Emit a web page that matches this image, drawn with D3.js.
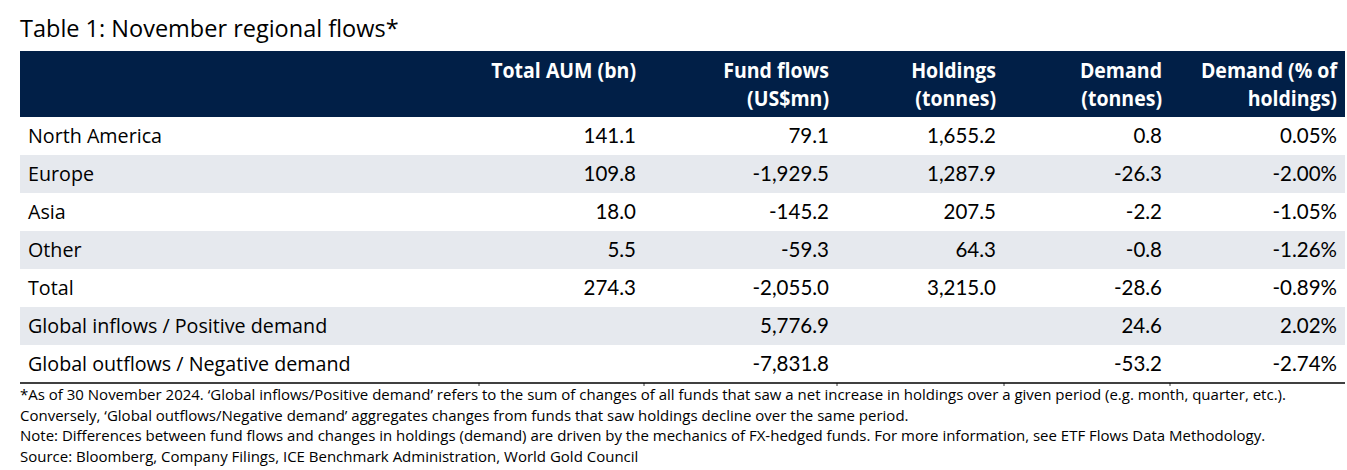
<!DOCTYPE html>
<html><head><meta charset="utf-8">
<script src="https://cdn.jsdelivr.net/npm/d3@7"></script>
<style>
html,body{margin:0;padding:0;background:#fff;}
svg{display:block;}
</style></head>
<body><div id="chart"></div>
<script>
// ---- data ----
const title = "Table 1: November regional flows*";
const headers = [
  ["", ""],
  ["Total AUM (bn)", ""],
  ["Fund flows", "(US$mn)"],
  ["Holdings", "(tonnes)"],
  ["Demand", "(tonnes)"],
  ["Demand (% of", "holdings)"]
];
const regions = ["North America", "Europe", "Asia", "Other", "Total", "Global inflows / Positive demand", "Global outflows / Negative demand"];
const totalAUM = [141.1, 109.8, 18.0, 5.5, 274.3, null, null];
const fundFlows = [79.1, -1929.5, -145.2, -59.3, -2055.0, 5776.9, -7831.8];
const holdings = [1655.2, 1287.9, 207.5, 64.3, 3215.0, null, null];
const demand = [0.8, -26.3, -2.2, -0.8, -28.6, 24.6, -53.2];
const demandPct = [0.05, -2.00, -1.05, -1.26, -0.89, 2.02, -2.74];
const notes = [
  "*As of 30 November 2024. \u2018Global inflows/Positive demand\u2019 refers to the sum of changes of all funds that saw a net increase in holdings over a given period (e.g. month, quarter, etc.).",
  "Conversely, \u2018Global outflows/Negative demand\u2019 aggregates changes from funds that saw holdings decline over the same period.",
  "Note: Differences between fund flows and changes in holdings (demand) are driven by the mechanics of FX-hedged funds. For more information, see ETF Flows Data Methodology.",
  "Source: Bloomberg, Company Filings, ICE Benchmark Administration, World Gold Council"
];

// ---- layout ----
const W = 1347, H = 470;
const left = 20, right = 1345;
const colEdges = [left, 479, 644, 837, 1004, 1170, right];
const headTop = 51, headBot = 117, tableBot = 383;
const loc = d3.formatLocale({decimal: ".", thousands: ",", grouping: [3], currency: ["$", ""], minus: "-"});
const f1 = loc.format(",.1f"), f2 = loc.format(".2f");
const fmts = [null, f1, f1, f1, f1, v => f2(v) + "%"];

const svg = d3.select("#chart").append("svg").attr("width", W).attr("height", H);

svg.append("text").attr("x", left).attr("y", 37)
  .attr("font-family", "'Open Sans', 'Noto Sans', sans-serif").attr("font-size", 23.5)
  .attr("fill", "#000").text(title);

svg.append("rect").attr("x", left).attr("y", headTop).attr("width", right - left).attr("height", headBot - headTop)
  .attr("fill", "#011f47");

const y = d3.scaleBand().domain(d3.range(regions.length)).range([headBot, tableBot]).padding(0);

// striped rows
svg.selectAll("rect.row").data(d3.range(regions.length)).join("rect")
  .attr("class", "row")
  .attr("x", left).attr("width", right - left)
  .attr("y", d => y(d)).attr("height", y.bandwidth())
  .attr("fill", d => d % 2 === 1 ? "#e6e9ee" : "#fff");

// headers
const hg = svg.append("g").attr("font-family", "'Open Sans', 'Noto Sans', sans-serif")
  .attr("font-weight", 700).attr("font-size", 21).attr("fill", "#fff");
headers.forEach((h, i) => {
  if (i === 0) return;
  const xr = colEdges[i + 1] - 8;
  h.forEach((t, j) => {
    if (!t) return;
    hg.append("text").attr("text-anchor", "end")
      .attr("transform", `translate(${xr},${78 + j * 28}) scale(0.93,1)`)
      .text(t);
  });
});

// body
const cols = [regions, totalAUM, fundFlows, holdings, demand, demandPct];
const bg = svg.append("g").attr("font-size", 20.5).attr("fill", "#000");
regions.forEach((r, i) => {
  const yb = y(i) + y.bandwidth() / 2 + 7;
  bg.append("text").attr("x", left + 8).attr("y", yb)
    .attr("font-family", "'Open Sans', 'Noto Sans', sans-serif").attr("font-size", 19.7)
    .text(r);
  for (let c = 1; c < cols.length; c++) {
    const v = cols[c][i];
    if (v == null) continue;
    bg.append("text").attr("x", colEdges[c + 1] - 8).attr("y", yb)
      .attr("text-anchor", "end").attr("font-family", "Lato, 'Open Sans', sans-serif")
      .text(fmts[c](v));
  }
});

// bottom rule
svg.append("line").attr("x1", left).attr("x2", right).attr("y1", tableBot).attr("y2", tableBot)
  .attr("stroke", "#000").attr("stroke-width", 1.5);
colEdges.slice(1, -1).forEach(x => {
  svg.append("line").attr("x1", x).attr("x2", x).attr("y1", tableBot).attr("y2", tableBot + 3)
    .attr("stroke", "#000").attr("stroke-width", 0.8);
});

// notes
const ng = svg.append("g").attr("font-family", "'Open Sans', 'Noto Sans', sans-serif")
  .attr("font-size", 15).attr("fill", "#000");
notes.forEach((t, i) => {
  ng.append("text").attr("x", left).attr("y", 400 + i * 20.7).text(t);
});
</script>
</body></html>
